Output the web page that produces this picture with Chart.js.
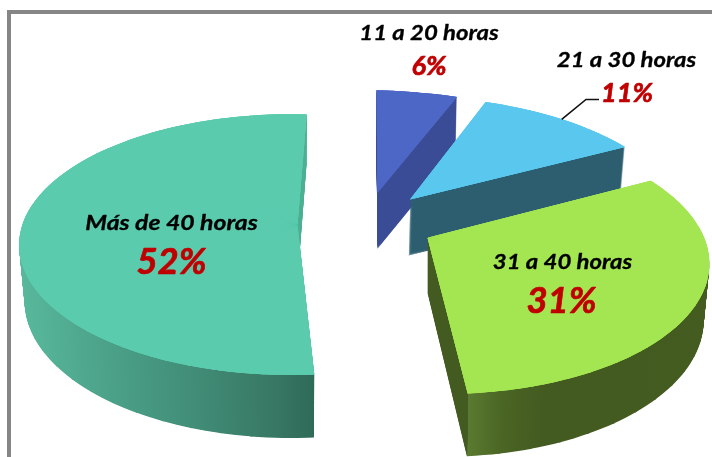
<!DOCTYPE html>
<html><head><meta charset="utf-8">
<script src="https://cdn.jsdelivr.net/npm/chart.js@4"></script>
<style>
html,body{margin:0;padding:0;background:#fff;overflow:hidden}
#wrap{position:relative;width:712px;height:457px}
#frame{position:absolute;left:7px;top:10px;right:0;bottom:0;border-top:4px solid #868686;border-left:4px solid #868686;pointer-events:none}
canvas{position:absolute;left:0;top:0}
</style></head><body>
<div id="wrap"><canvas id="c" width="712" height="457"></canvas><div id="frame"></div></div>
<script>
const categories = ["11 a 20 horas", "21 a 30 horas", "31 a 40 horas", "Más de 40 horas"];
const percentages = [6, 11, 31, 52];

const topColors = ["#4c67c5", "#5ac8ee", "#a4e651", "#5bcbae"];

// Perspective placement of each exploded slice: four pie-plane angles (deg clockwise from 12 o'clock; null = apex) and where they land.
const sliceViews = [
  {pts:[[null,377.5,192.7],[0,376.5,90.3],[21.6,457,97],[10.8,417,92.5]], depth:56, sx:.985, sy:1, dx:0, wall:[[378,457],[0,"#3a4c96"],[1,"#3a4c96"]]},
  {pts:[[null,410,199.5],[21.6,485.7,102],[61.2,625,147],[41.4,561.7,119.3]], depth:56, sx:.985, sy:1, dx:-1.5, wall:[[405,625],[0,"#2c5e70"],[1,"#2c5e70"]]},
  {pts:[[null,427.5,237.7],[61.2,650.7,180.8],[172.8,467.7,393.5],[90,705,240]], depth:55, sx:.98, sy:1.05, dx:0, wall:[[428,710],[0,"#435a20"],[.142,"#435a20"],[.143,"#5a7a30"],[.27,"#4a6524"],[.42,"#435a20"],[1,"#445c20"]]},
  {pts:[[null,297.5,225],[362.3,306.7,114.4],[177,314.3,374.5],[270,22.3,225]], warp:[172.8,360,177,362.3], depth:55.5, sx:.98, sy:1.05, dx:0, farWall:"#4fb094", wall:[[20,315],[0,"#58b89b"],[.3,"#4ba188"],[.6,"#418c76"],[.88,"#377662"],[1,"#2e6a58"]]}
];

const labelStyles = [
  {x:429, y:33,  size:21, stretch:1.14, px:429,   py:66,  psize:27},
  {x:626.5, y:60,  size:21, stretch:1.14, px:627,   py:93,  psize:27},
  {x:562.5, y:262, size:21, stretch:1.14, px:561.5, py:301, psize:36.5},
  {x:171.5, y:223, size:21, stretch:1.18, px:171.5, py:262, psize:36.5}
];
const leader = [[561.7,119.3],[586,99.5],[599,99.5]];

function solve(A, b){
  const n = b.length, M = A.map((r,i)=>[...r,b[i]]);
  for(let i=0;i<n;i++){
    let p=i; for(let r=i+1;r<n;r++) if(Math.abs(M[r][i])>Math.abs(M[p][i])) p=r;
    [M[i],M[p]]=[M[p],M[i]];
    for(let r=0;r<n;r++){ if(r===i) continue; const f=M[r][i]/M[i][i]; for(let c=i;c<=n;c++) M[r][c]-=f*M[i][c]; }
  }
  return M.map((r,i)=>r[n]/r[i]);
}
function homography(pts){
  const A=[], b=[];
  for(const [deg,x,y] of pts){
    const t = deg===null?0:deg*Math.PI/180, r = deg===null?0:1;
    const u=r*Math.sin(t), w=r*Math.cos(t);
    A.push([u,w,1,0,0,0,-u*x,-w*x]); b.push(x);
    A.push([0,0,0,u,w,1,-u*y,-w*y]); b.push(y);
  }
  const h = solve(A,b);
  return (u,w)=>{ const d=h[6]*u+h[7]*w+1; return [(h[0]*u+h[1]*w+h[2])/d,(h[3]*u+h[4]*w+h[5])/d]; };
}

function drawSlice(ctx, arc, H, warp, fill, stepDeg){
  const s0=arc.startAngle, e0=arc.endAngle, c0=arc.circumference, sv=arc.options;
  const cx=arc.x, cy=arc.y, R=arc.outerRadius;
  const n=Math.ceil((e0-s0)/(stepDeg*Math.PI/180)), step=(e0-s0)/n, eps=0.004;
  const O=H(0,0);
  const rim=a=>{
    let t=a+Math.PI/2;
    if(warp){ const r=Math.PI/180; t=(warp[2]+(t/r-warp[0])*(warp[3]-warp[2])/(warp[1]-warp[0]))*r; }
    return H(Math.sin(t),Math.cos(t));
  };
  for(let k=0;k<n;k++){
    const a=s0+k*step, b=a+step;
    const A=rim(a), B=rim(b);
    const va=[R*Math.cos(a),R*Math.sin(a)], vb=[R*Math.cos(b),R*Math.sin(b)];
    const det=va[0]*vb[1]-vb[0]*va[1];
    const ta=[A[0]-O[0],A[1]-O[1]], tb=[B[0]-O[0],B[1]-O[1]];
    const l00=(ta[0]*vb[1]-tb[0]*va[1])/det, l01=(tb[0]*va[0]-ta[0]*vb[0])/det;
    const l10=(ta[1]*vb[1]-tb[1]*va[1])/det, l11=(tb[1]*va[0]-ta[1]*vb[0])/det;
    const e=O[0]-l00*cx-l01*cy, f=O[1]-l10*cx-l11*cy;
    ctx.save();
    ctx.transform(l00,l10,l01,l11,e,f);
    arc.startAngle = k?a-eps:a;
    arc.endAngle = k<n-1?b+eps:b;
    arc.circumference = arc.endAngle-arc.startAngle;
    arc.options = Object.assign({}, sv, {backgroundColor:fill(l00,l01,e,(a+b)/2), borderWidth:0, offset:0, spacing:0});
    arc.draw(ctx);
    ctx.restore();
  }
  arc.startAngle=s0; arc.endAngle=e0; arc.circumference=c0; arc.options=sv;
}

const pie3d = {
  id:"pie3d",
  beforeDatasetsDraw(chart){
    const ctx=chart.ctx, arcs=chart.getDatasetMeta(0).data;
    arcs.forEach((arc,i)=>{
      const v=sliceViews[i], H=homography(v.pts), O=H(0,0);
      const [[x0,x1],...stops]=v.wall;
      const wallFill=(a,c,e,mid)=>{
        if(v.farWall && Math.cos(mid)>-0.5 && Math.sin(mid)<0) return v.farWall;
        const q=a*a+c*c, s0=(x0-e)/q, s1=(x1-e)/q;
        const g=ctx.createLinearGradient(s0*a,s0*c,s1*a,s1*c);
        stops.forEach(([p,col])=>g.addColorStop(p,col));
        return g;
      };
      for(let d=Math.ceil(v.depth);d>=1;d--){
        const t=Math.min(1,d/v.depth);
        ctx.save();
        ctx.translate(O[0]+t*v.dx,O[1]+t*v.depth);
        ctx.scale(1+t*(v.sx-1),1+t*(v.sy-1));
        ctx.translate(-O[0],-O[1]);
        drawSlice(ctx,arc,H,v.warp,wallFill,6);
        ctx.restore();
      }
      [17,6,4.7].forEach(step=>drawSlice(ctx,arc,H,v.warp,()=>topColors[i],step));
    });
    return false;
  },
  afterDraw(chart){
    const ctx=chart.ctx;
    ctx.save();
    ctx.strokeStyle="#111"; ctx.lineWidth=1.6; ctx.beginPath();
    leader.forEach(([x,y],i)=>i?ctx.lineTo(x,y):ctx.moveTo(x,y));
    ctx.stroke();
    ctx.textAlign="center"; ctx.textBaseline="middle"; ctx.lineJoin="round";
    categories.forEach((name,i)=>{
      const s=labelStyles[i];
      ctx.save();
      ctx.translate(s.x,s.y); ctx.scale(s.stretch,1);
      ctx.fillStyle="#000"; ctx.strokeStyle="#000"; ctx.lineWidth=0.3;
      ctx.font=`italic bold ${s.size}px Lato`;
      ctx.fillText(name,0,0); ctx.strokeText(name,0,0);
      ctx.restore();
      ctx.fillStyle="#c00000"; ctx.strokeStyle="#c00000"; ctx.lineWidth=0.7;
      ctx.font=`italic bold ${s.psize}px Lato`;
      ctx.fillText(percentages[i]+"%",s.px,s.py);
      ctx.strokeText(percentages[i]+"%",s.px,s.py);
    });
    ctx.restore();
  }
};

new Chart(document.getElementById("c"),{
  type:"pie",
  data:{labels:categories,datasets:[{data:percentages,backgroundColor:topColors,borderWidth:0}]},
  options:{responsive:false,animation:false,rotation:0,
    plugins:{legend:{display:false},tooltip:{enabled:false}},events:[]},
  plugins:[pie3d]
});
</script></body></html>
